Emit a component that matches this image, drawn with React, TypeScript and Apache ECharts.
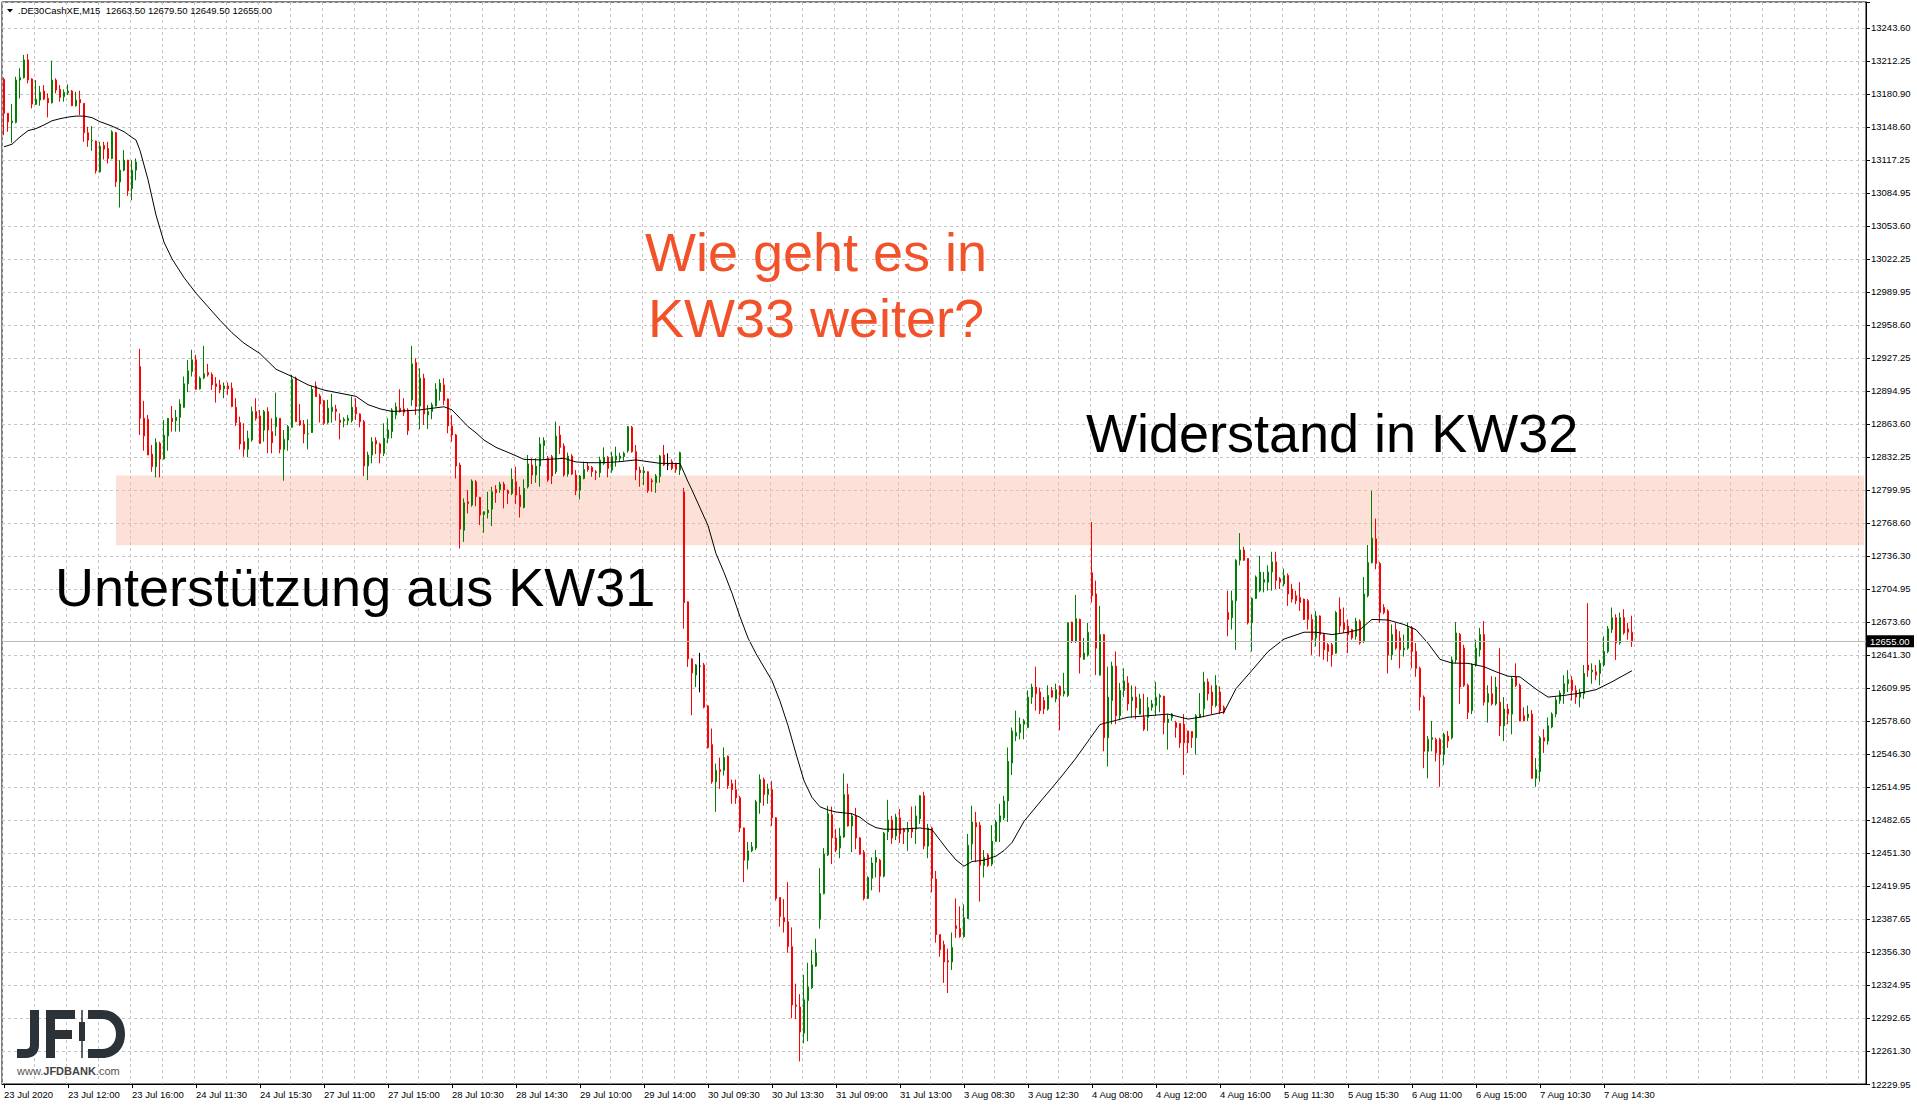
import React, { useEffect, useRef } from 'react';
import * as echarts from 'echarts';

const W = 1917;
const H = 1107;

const symbolName = '.DE30CashXE,M15';

const yTickLabels = [
  '12229.95', '12261.30', '12292.65', '12324.95', '12356.30', '12387.65', '12419.95', '12451.30',
  '12482.65', '12514.95', '12546.30', '12578.60', '12609.95', '12641.30', '12673.60', '12704.95',
  '12736.30', '12768.60', '12799.95', '12832.25', '12863.60', '12894.95', '12927.25', '12958.60',
  '12989.95', '13022.25', '13053.60', '13084.95', '13117.25', '13148.60', '13180.90', '13212.25', '13243.60',
];

const xTickLabels = [
  '23 Jul 2020', '23 Jul 12:00', '23 Jul 16:00', '24 Jul 11:30', '24 Jul 15:30', '27 Jul 11:00',
  '27 Jul 15:00', '28 Jul 10:30', '28 Jul 14:30', '29 Jul 10:00', '29 Jul 14:00', '30 Jul 09:30',
  '30 Jul 13:30', '31 Jul 09:00', '31 Jul 13:00', '3 Aug 08:30', '3 Aug 12:30', '4 Aug 08:00',
  '4 Aug 12:00', '4 Aug 16:00', '5 Aug 11:30', '5 Aug 15:30', '6 Aug 11:00', '6 Aug 15:00',
  '7 Aug 10:30', '7 Aug 14:30',
];

const openP = [
  13194.3, 13161.6, 13152.6, 13153.0, 13193.6, 13195.9, 13212.9, 13194.6, 13170.2, 13174.4,
  13183.0, 13176.0, 13171.8, 13193.6, 13184.6, 13177.6, 13181.4, 13183.0, 13168.9, 13175.0,
  13171.2, 13143.0, 13135.3, 13135.0, 13105.5, 13130.8, 13127.9, 13118.3, 13143.0, 13095.8,
  13107.1, 13116.7, 13089.4, 13107.1, 12918.6, 12868.9, 12868.0, 12834.6, 12822.5, 12844.9,
  12829.8, 12851.9, 12868.9, 12866.7, 12869.9, 12879.5, 12902.0, 12913.8, 12925.0, 12897.2,
  12907.7, 12912.9, 12911.0, 12902.0, 12901.0, 12897.2, 12900.0, 12897.8, 12879.5, 12864.8,
  12846.5, 12839.1, 12848.1, 12875.4, 12871.2, 12857.7, 12875.4, 12856.1, 12860.9, 12868.9,
  12839.1, 12848.1, 12860.3, 12907.4, 12866.7, 12863.2, 12853.9, 12855.2, 12900.0, 12890.4,
  12885.9, 12864.8, 12875.4, 12877.9, 12867.3, 12866.4, 12866.7, 12866.7, 12879.5, 12873.1,
  12865.7, 12823.1, 12833.7, 12847.5, 12844.3, 12835.3, 12849.7, 12856.1, 12872.0, 12878.6,
  12877.9, 12876.9, 12886.6, 12922.5, 12880.8, 12907.4, 12872.2, 12875.4, 12880.8, 12894.6,
  12901.0, 12887.5, 12861.6, 12852.9, 12824.1, 12761.5, 12788.8, 12785.6, 12808.0, 12793.0,
  12776.6, 12778.2, 12781.7, 12800.6, 12800.6, 12805.8, 12799.4, 12796.8, 12808.0, 12795.2,
  12783.4, 12803.2, 12824.1, 12814.4, 12823.1, 12842.7, 12830.5, 12832.1, 12817.6, 12852.9,
  12842.3, 12815.4, 12832.7, 12814.4, 12800.0, 12811.2, 12823.1, 12821.8, 12817.6, 12816.7,
  12825.7, 12831.5, 12819.2, 12828.9, 12830.5, 12832.1, 12837.8, 12860.3, 12836.9, 12819.2,
  12816.7, 12817.6, 12809.0, 12807.1, 12813.0, 12833.7, 12824.1, 12827.3, 12825.7, 12819.2,
  12798.3, 12692.8, 12638.0, 12622.5, 12631.0, 12632.2, 12592.8, 12555.7, 12520.1, 12531.7,
  12531.0, 12544.5, 12518.2, 12512.4, 12504.7, 12475.7, 12444.8, 12453.7, 12456.4, 12500.1,
  12522.1, 12507.8, 12512.4, 12485.4, 12408.9, 12389.6, 12385.7, 12361.8, 12305.8, 12303.8,
  12278.7, 12310.0, 12322.4, 12343.2, 12388.0, 12412.7, 12449.8, 12488.5, 12466.1, 12456.4,
  12467.0, 12507.8, 12477.6, 12487.3, 12466.1, 12452.5, 12408.1, 12427.5, 12442.9, 12444.8,
  12429.4, 12471.9, 12483.4, 12468.0, 12485.4, 12474.5, 12471.9, 12475.7, 12474.5, 12484.6,
  12506.6, 12458.3, 12475.7, 12426.7, 12373.3, 12363.7, 12348.2, 12347.1, 12381.8, 12379.1,
  12371.4, 12388.8, 12460.3, 12480.7, 12478.4, 12439.8, 12449.8, 12441.0, 12463.0, 12481.5,
  12485.4, 12501.6, 12538.0, 12563.9, 12567.2, 12575.3, 12572.1, 12601.3, 12611.0, 12606.2,
  12598.0, 12589.9, 12607.7, 12599.6, 12611.6, 12604.5, 12602.9, 12673.3, 12654.8, 12675.9,
  12637.6, 12641.8, 12720.7, 12700.3, 12622.4, 12661.3, 12562.3, 12598.0, 12631.1, 12583.4,
  12607.7, 12614.9, 12598.0, 12601.3, 12585.0, 12581.8, 12581.8, 12591.5, 12593.2, 12601.3,
  12602.2, 12576.9, 12581.8, 12576.9, 12575.9, 12575.3, 12568.8, 12568.2, 12562.3, 12581.8,
  12590.2, 12615.9, 12606.2, 12593.2, 12606.2, 12591.5, 12682.4, 12677.5, 12693.8, 12732.7,
  12742.5, 12734.3, 12672.7, 12696.0, 12703.5, 12711.6, 12711.6, 12721.4, 12731.1, 12714.9,
  12710.0, 12718.1, 12705.1, 12698.6, 12697.0, 12695.4, 12693.8, 12675.9, 12658.1, 12679.2,
  12661.3, 12651.6, 12651.6, 12643.5, 12685.7, 12672.7, 12669.5, 12666.2, 12659.7, 12674.3,
  12654.8, 12698.6, 12730.4, 12753.2, 12729.5, 12687.3, 12684.0, 12641.8, 12666.2, 12658.1,
  12646.7, 12648.3, 12667.8, 12645.1, 12628.9, 12601.3, 12549.3, 12560.7, 12560.7, 12560.7,
  12546.1, 12563.9, 12562.3, 12637.0, 12661.3, 12648.3, 12612.6, 12588.3, 12632.1, 12646.7,
  12661.3, 12596.4, 12604.5, 12594.8, 12596.4, 12573.7, 12589.9, 12585.0, 12620.7, 12612.6,
  12583.4, 12581.8, 12585.0, 12523.4, 12529.8, 12562.3, 12559.1, 12572.7, 12585.0, 12598.0,
  12604.5, 12614.2, 12617.5, 12607.7, 12601.3, 12604.5, 12632.1, 12625.6, 12625.6, 12624.0,
  12632.1, 12645.1, 12666.2, 12677.5, 12653.2, 12677.5, 12666.8, 12663.5,
];

const highP = [
  13196.0, 13162.0, 13170.5, 13196.8, 13204.9, 13217.7, 13218.6, 13195.2, 13193.6, 13187.9,
  13188.8, 13180.8, 13212.2, 13195.2, 13188.8, 13184.6, 13189.5, 13184.0, 13182.4, 13183.4,
  13171.5, 13148.7, 13149.4, 13135.5, 13134.3, 13134.3, 13134.3, 13145.5, 13143.9, 13116.7,
  13126.3, 13117.0, 13116.7, 13118.3, 12935.6, 12885.6, 12872.2, 12843.3, 12849.7, 12846.5,
  12867.3, 12869.2, 12880.8, 12876.9, 12887.2, 12909.0, 12925.0, 12934.7, 12929.9, 12909.0,
  12938.5, 12921.2, 12912.9, 12908.4, 12905.8, 12903.3, 12903.3, 12903.3, 12888.2, 12870.5,
  12864.1, 12857.1, 12880.2, 12888.2, 12876.9, 12876.9, 12879.5, 12868.9, 12893.6, 12869.2,
  12857.7, 12862.5, 12910.6, 12909.0, 12882.7, 12867.3, 12868.0, 12900.0, 12904.2, 12892.4,
  12886.2, 12886.6, 12892.4, 12881.8, 12873.7, 12869.9, 12872.2, 12889.8, 12888.2, 12873.7,
  12867.3, 12836.9, 12850.7, 12850.7, 12845.5, 12864.1, 12868.9, 12878.6, 12884.0, 12896.8,
  12888.2, 12878.6, 12938.5, 12926.6, 12917.0, 12911.6, 12881.8, 12884.0, 12902.6, 12906.5,
  12907.4, 12888.0, 12872.2, 12853.9, 12826.3, 12792.0, 12800.0, 12810.3, 12809.6, 12793.6,
  12779.5, 12798.4, 12803.2, 12804.8, 12808.0, 12808.0, 12800.6, 12820.8, 12822.5, 12803.2,
  12810.3, 12833.7, 12830.5, 12830.5, 12850.7, 12850.7, 12832.7, 12833.7, 12865.7, 12861.6,
  12844.9, 12836.0, 12834.6, 12819.2, 12814.4, 12827.3, 12826.3, 12823.1, 12819.2, 12832.1,
  12841.0, 12832.7, 12836.9, 12841.7, 12835.9, 12836.9, 12861.6, 12861.6, 12843.3, 12822.5,
  12822.5, 12818.0, 12811.2, 12815.4, 12833.7, 12843.3, 12835.3, 12829.5, 12826.3, 12836.9,
  12802.1, 12693.0, 12638.5, 12633.0, 12643.8, 12634.1, 12593.5, 12571.1, 12537.5, 12543.3,
  12553.0, 12545.3, 12522.1, 12522.1, 12506.6, 12476.0, 12462.2, 12462.2, 12502.7, 12527.1,
  12524.0, 12518.2, 12520.9, 12486.0, 12409.0, 12407.4, 12423.6, 12380.3, 12326.2, 12316.2,
  12334.7, 12346.3, 12358.7, 12369.5, 12437.1, 12456.4, 12497.0, 12496.2, 12474.5, 12475.7,
  12527.9, 12518.2, 12490.0, 12495.0, 12466.9, 12454.5, 12429.4, 12447.5, 12454.5, 12446.0,
  12471.9, 12502.7, 12487.3, 12489.3, 12493.9, 12475.7, 12481.5, 12496.2, 12497.0, 12507.0,
  12510.5, 12479.6, 12476.9, 12434.4, 12373.6, 12367.5, 12359.8, 12375.3, 12408.1, 12400.4,
  12402.3, 12470.0, 12497.0, 12491.2, 12481.5, 12454.5, 12451.4, 12478.4, 12483.4, 12498.9,
  12506.6, 12553.0, 12572.1, 12588.3, 12581.8, 12580.2, 12607.7, 12614.2, 12630.5, 12610.4,
  12601.3, 12612.6, 12611.0, 12614.2, 12612.6, 12624.6, 12673.0, 12673.7, 12699.3, 12676.6,
  12658.1, 12672.7, 12769.4, 12713.2, 12688.9, 12661.6, 12630.5, 12635.3, 12645.1, 12614.9,
  12628.9, 12621.4, 12612.6, 12611.6, 12604.5, 12604.5, 12601.3, 12598.6, 12615.9, 12604.5,
  12602.5, 12585.0, 12586.0, 12578.5, 12576.2, 12585.0, 12569.1, 12568.8, 12585.0, 12605.2,
  12625.6, 12619.1, 12612.6, 12622.4, 12611.6, 12593.2, 12703.5, 12703.5, 12733.7, 12758.7,
  12745.7, 12734.6, 12697.0, 12718.1, 12737.0, 12721.4, 12727.8, 12740.8, 12740.8, 12716.5,
  12724.6, 12720.0, 12710.0, 12703.5, 12711.6, 12695.8, 12695.4, 12680.8, 12684.0, 12679.8,
  12662.9, 12653.2, 12653.2, 12684.0, 12697.0, 12687.3, 12675.9, 12666.8, 12677.5, 12675.9,
  12716.5, 12747.3, 12799.3, 12772.6, 12731.1, 12690.5, 12685.7, 12671.0, 12672.7, 12664.6,
  12661.3, 12672.7, 12669.5, 12653.2, 12630.5, 12602.9, 12563.9, 12578.5, 12562.3, 12562.3,
  12567.2, 12568.8, 12640.2, 12673.3, 12662.9, 12651.6, 12614.2, 12633.7, 12656.4, 12667.8,
  12674.3, 12612.6, 12621.4, 12620.7, 12648.3, 12601.3, 12594.8, 12620.7, 12633.7, 12614.2,
  12591.5, 12593.2, 12588.9, 12542.8, 12563.9, 12570.5, 12581.8, 12586.7, 12601.3, 12607.7,
  12622.4, 12627.2, 12621.4, 12612.6, 12609.4, 12632.1, 12691.5, 12633.7, 12632.1, 12637.0,
  12659.7, 12669.5, 12687.3, 12680.8, 12682.4, 12685.7, 12672.7, 12679.5,
];

const lowP = [
  13140.7, 13144.0, 13133.4, 13152.0, 13176.0, 13195.0, 13190.4, 13166.4, 13169.6, 13168.9,
  13174.4, 13157.7, 13171.0, 13180.8, 13172.8, 13172.8, 13179.2, 13168.5, 13168.0, 13160.0,
  13134.3, 13129.5, 13125.7, 13103.9, 13104.8, 13117.3, 13113.5, 13117.5, 13091.0, 13071.2,
  13106.0, 13082.4, 13078.2, 13097.4, 12852.9, 12837.8, 12833.5, 12817.6, 12812.2, 12812.2,
  12829.5, 12837.8, 12856.1, 12856.1, 12856.1, 12879.0, 12894.0, 12909.0, 12896.2, 12896.5,
  12906.5, 12909.0, 12896.2, 12884.0, 12893.0, 12888.2, 12891.4, 12879.5, 12861.6, 12839.1,
  12832.1, 12831.5, 12846.5, 12866.7, 12844.3, 12846.5, 12835.3, 12835.3, 12851.9, 12835.3,
  12809.0, 12837.8, 12860.0, 12865.4, 12861.6, 12844.9, 12839.1, 12855.0, 12889.5, 12864.8,
  12862.5, 12863.5, 12864.8, 12866.7, 12848.7, 12860.3, 12862.5, 12864.8, 12867.3, 12860.3,
  12813.5, 12809.6, 12825.7, 12834.6, 12825.7, 12832.7, 12844.9, 12849.7, 12868.0, 12874.4,
  12871.2, 12852.9, 12880.8, 12872.2, 12858.4, 12862.5, 12858.7, 12868.0, 12880.2, 12885.9,
  12881.8, 12854.5, 12846.5, 12811.2, 12743.9, 12750.3, 12777.6, 12784.0, 12784.6, 12766.4,
  12759.0, 12772.8, 12765.4, 12787.8, 12797.4, 12782.4, 12786.6, 12795.2, 12786.6, 12773.7,
  12782.4, 12801.6, 12805.8, 12807.1, 12803.2, 12829.5, 12808.0, 12805.8, 12815.4, 12834.6,
  12812.8, 12812.8, 12814.4, 12795.2, 12791.0, 12810.3, 12817.6, 12812.8, 12809.6, 12812.2,
  12824.1, 12812.2, 12816.7, 12822.5, 12827.3, 12828.3, 12835.9, 12835.9, 12809.6, 12803.2,
  12804.8, 12797.4, 12798.4, 12797.4, 12807.1, 12823.1, 12819.2, 12819.2, 12816.7, 12814.4,
  12666.9, 12630.3, 12583.9, 12610.9, 12605.9, 12590.5, 12551.8, 12518.2, 12491.2, 12513.2,
  12526.0, 12513.2, 12498.9, 12498.9, 12471.9, 12423.6, 12436.0, 12452.5, 12454.5, 12489.3,
  12497.0, 12498.9, 12477.6, 12406.0, 12381.0, 12375.3, 12356.0, 12293.0, 12292.2, 12251.6,
  12269.0, 12271.0, 12321.2, 12342.4, 12379.1, 12412.0, 12448.7, 12441.0, 12452.5, 12446.7,
  12466.1, 12477.0, 12452.5, 12455.2, 12450.0, 12406.2, 12407.4, 12415.8, 12428.2, 12413.9,
  12428.2, 12464.1, 12460.3, 12464.1, 12461.4, 12460.3, 12453.7, 12466.1, 12460.3, 12479.6,
  12455.2, 12446.7, 12413.9, 12365.6, 12352.1, 12327.0, 12317.3, 12339.4, 12370.3, 12370.3,
  12370.3, 12388.5, 12444.8, 12442.9, 12405.0, 12428.2, 12438.3, 12439.0, 12462.2, 12462.2,
  12483.4, 12481.5, 12526.6, 12559.1, 12560.7, 12560.7, 12571.5, 12594.8, 12588.3, 12585.0,
  12585.0, 12588.3, 12601.0, 12596.4, 12569.4, 12601.9, 12601.3, 12653.2, 12653.2, 12624.0,
  12637.0, 12640.2, 12692.1, 12622.4, 12622.0, 12549.3, 12534.7, 12575.3, 12575.3, 12579.2,
  12601.3, 12588.3, 12581.8, 12580.2, 12584.5, 12568.8, 12568.8, 12588.3, 12583.4, 12586.7,
  12565.6, 12550.9, 12578.5, 12562.3, 12552.6, 12526.6, 12547.7, 12552.6, 12546.1, 12581.6,
  12581.8, 12598.0, 12585.0, 12591.5, 12585.0, 12585.0, 12659.7, 12666.2, 12646.7, 12727.8,
  12732.0, 12671.0, 12645.1, 12695.4, 12701.9, 12701.9, 12703.5, 12703.5, 12705.1, 12705.1,
  12707.7, 12688.9, 12692.1, 12690.5, 12684.0, 12675.5, 12666.2, 12641.8, 12649.9, 12640.2,
  12637.0, 12635.3, 12630.5, 12643.0, 12662.9, 12662.9, 12643.5, 12656.4, 12656.4, 12651.6,
  12653.2, 12697.0, 12729.5, 12724.0, 12672.7, 12680.8, 12624.0, 12637.0, 12646.7, 12628.9,
  12640.2, 12646.7, 12628.9, 12620.7, 12588.3, 12533.1, 12523.4, 12549.3, 12539.6, 12515.2,
  12536.3, 12552.6, 12560.7, 12633.7, 12594.8, 12611.0, 12580.2, 12585.0, 12630.5, 12640.2,
  12593.2, 12576.9, 12593.2, 12593.2, 12563.9, 12559.1, 12575.3, 12565.6, 12611.0, 12578.0,
  12578.0, 12578.5, 12523.0, 12515.2, 12520.1, 12547.7, 12555.8, 12571.4, 12581.8, 12594.8,
  12594.8, 12606.2, 12598.0, 12594.8, 12591.5, 12599.6, 12620.7, 12614.2, 12617.5, 12612.6,
  12630.5, 12643.5, 12662.9, 12637.0, 12651.6, 12661.3, 12656.4, 12649.5,
];

const closeP = [
  13161.6, 13153.5, 13154.2, 13193.6, 13195.9, 13212.9, 13193.6, 13170.5, 13175.0, 13181.8,
  13175.3, 13171.8, 13193.6, 13184.0, 13177.0, 13181.8, 13183.0, 13168.9, 13174.4, 13171.8,
  13143.0, 13135.9, 13135.6, 13106.4, 13130.1, 13127.3, 13118.3, 13143.9, 13095.8, 13107.1,
  13116.7, 13087.2, 13107.1, 13114.8, 12868.9, 12851.9, 12833.7, 12822.5, 12845.8, 12829.8,
  12852.6, 12868.9, 12865.7, 12869.9, 12882.7, 12902.0, 12914.5, 12925.0, 12896.8, 12907.4,
  12911.6, 12910.6, 12901.0, 12899.4, 12896.2, 12900.0, 12897.2, 12880.2, 12864.8, 12844.3,
  12839.1, 12849.7, 12875.4, 12868.9, 12844.9, 12875.4, 12857.7, 12845.5, 12869.9, 12839.1,
  12848.7, 12860.9, 12906.5, 12865.7, 12862.5, 12853.9, 12854.2, 12896.8, 12889.8, 12882.7,
  12864.1, 12878.6, 12879.5, 12875.4, 12864.8, 12868.0, 12868.9, 12879.5, 12873.1, 12865.7,
  12823.1, 12833.7, 12846.5, 12844.3, 12835.3, 12849.7, 12857.7, 12876.9, 12880.0, 12875.4,
  12874.7, 12857.1, 12921.2, 12880.2, 12907.4, 12873.1, 12875.4, 12881.8, 12896.8, 12902.6,
  12885.9, 12861.6, 12852.9, 12823.1, 12762.5, 12787.8, 12787.2, 12808.7, 12793.6, 12776.0,
  12779.2, 12780.8, 12798.4, 12797.4, 12805.8, 12800.0, 12796.8, 12810.3, 12795.2, 12784.0,
  12801.6, 12825.1, 12814.4, 12823.1, 12844.3, 12847.5, 12809.6, 12813.5, 12851.9, 12841.0,
  12814.4, 12832.7, 12815.4, 12799.4, 12813.5, 12819.8, 12819.8, 12817.6, 12816.7, 12828.9,
  12831.5, 12820.8, 12832.1, 12832.7, 12832.7, 12835.3, 12860.9, 12836.9, 12819.2, 12816.7,
  12818.3, 12799.4, 12808.0, 12813.5, 12832.7, 12824.1, 12824.1, 12820.8, 12819.8, 12835.9,
  12692.0, 12638.0, 12624.4, 12632.2, 12631.0, 12591.6, 12553.0, 12520.1, 12531.0, 12529.8,
  12543.3, 12516.3, 12512.4, 12504.7, 12475.7, 12444.8, 12453.7, 12457.6, 12500.8, 12522.1,
  12507.8, 12513.2, 12485.4, 12408.1, 12390.7, 12385.7, 12361.8, 12305.8, 12304.6, 12279.9,
  12310.8, 12323.1, 12344.4, 12356.0, 12412.7, 12450.6, 12489.3, 12466.1, 12454.5, 12468.0,
  12507.8, 12477.6, 12487.3, 12466.1, 12450.6, 12408.1, 12428.2, 12442.1, 12447.5, 12429.4,
  12470.7, 12483.4, 12466.1, 12486.1, 12469.9, 12471.9, 12474.5, 12471.9, 12487.3, 12506.6,
  12458.3, 12475.7, 12427.4, 12373.3, 12358.7, 12347.1, 12347.1, 12361.0, 12379.1, 12371.4,
  12389.6, 12459.1, 12481.5, 12476.9, 12439.8, 12447.5, 12439.8, 12463.0, 12481.5, 12487.3,
  12501.6, 12539.5, 12568.8, 12567.2, 12575.3, 12578.5, 12601.3, 12611.0, 12604.5, 12588.3,
  12589.9, 12602.9, 12601.3, 12608.4, 12602.9, 12607.1, 12672.7, 12654.8, 12676.6, 12639.6,
  12643.5, 12663.6, 12698.6, 12648.3, 12661.3, 12562.3, 12601.3, 12631.1, 12583.4, 12607.7,
  12616.8, 12594.8, 12601.3, 12590.9, 12599.6, 12570.5, 12591.5, 12594.8, 12601.3, 12602.9,
  12576.9, 12580.2, 12585.0, 12572.1, 12557.4, 12557.4, 12557.4, 12562.3, 12583.4, 12585.0,
  12615.9, 12604.5, 12593.2, 12612.6, 12588.3, 12586.7, 12675.9, 12693.8, 12732.7, 12742.5,
  12732.7, 12672.7, 12696.0, 12716.5, 12721.4, 12714.2, 12721.4, 12731.1, 12713.2, 12711.6,
  12718.1, 12700.3, 12695.4, 12693.8, 12692.1, 12675.9, 12675.9, 12656.4, 12679.2, 12661.3,
  12646.7, 12645.1, 12641.8, 12682.4, 12669.5, 12666.2, 12661.3, 12658.1, 12674.3, 12653.2,
  12700.3, 12730.4, 12753.8, 12729.5, 12682.4, 12682.4, 12641.8, 12661.3, 12648.3, 12646.7,
  12648.3, 12667.8, 12645.1, 12628.9, 12601.3, 12549.3, 12560.7, 12562.3, 12547.7, 12546.1,
  12565.6, 12559.1, 12637.0, 12662.9, 12611.0, 12612.6, 12586.7, 12632.1, 12648.3, 12661.3,
  12596.4, 12604.5, 12594.8, 12611.0, 12573.7, 12589.9, 12585.0, 12619.1, 12612.6, 12578.5,
  12578.5, 12585.0, 12523.4, 12531.5, 12562.3, 12559.1, 12573.7, 12585.0, 12598.6, 12605.2,
  12614.2, 12618.1, 12607.7, 12601.3, 12606.2, 12624.0, 12627.2, 12627.2, 12622.4, 12633.7,
  12645.1, 12666.8, 12677.5, 12653.2, 12677.5, 12662.9, 12663.6, 12655.0,
];

// moving average line, read at sampled bars
const maIdx = [
  0, 2, 4, 6, 8, 10, 12, 14, 16, 18, 20, 22, 24, 27, 30, 32, 33, 34, 36, 38, 40, 42, 45, 48, 51, 54, 57, 60,
  64, 68, 72, 76, 80, 84, 88, 91, 94, 97, 100, 104, 108, 110, 112, 114, 116, 118, 120, 123, 127, 130, 134,
  138, 140, 143, 146, 150, 154, 158, 161, 164, 169, 171, 172, 174, 176, 178, 180, 182, 184, 186, 188, 190,
  192, 194, 196, 198, 200, 202, 204, 206, 208, 212, 214, 216, 218, 220, 224, 229, 232, 234, 236, 238, 240,
  242, 245, 248, 250, 252, 255, 259, 264, 268, 271, 274, 277, 281, 286, 291, 296, 299, 305, 308, 312, 316,
  320, 325, 328, 332, 336, 339, 342, 346, 350, 353, 356, 359, 362, 366, 370, 373, 376, 379, 383, 386, 390,
  394, 398, 402, 405, 407,
];
const maVal = [
  13129.5, 13132, 13139, 13145, 13147, 13150.5, 13154.5, 13156.5, 13158, 13159, 13159, 13157.5, 13153.6,
  13149.4, 13144, 13138.5, 13136, 13126, 13098, 13064, 13038, 13022, 13004, 12989, 12976, 12963, 12951, 12941,
  12931, 12916, 12909, 12901, 12896, 12893, 12890, 12882, 12878, 12875.5, 12876, 12877, 12879, 12880, 12877,
  12869, 12861, 12855, 12848, 12841, 12834.6, 12829.5, 12829, 12830, 12830.5, 12827, 12826.3, 12826.3,
  12827.3, 12829, 12827.3, 12825.7, 12825.5, 12808, 12800, 12783, 12766, 12739, 12721, 12701, 12678.5,
  12658, 12643, 12630, 12617, 12597.4, 12574, 12547, 12521, 12505, 12496, 12493, 12491, 12489.3, 12486,
  12480, 12476, 12474.5, 12474.5, 12475.7, 12474, 12464, 12454, 12445, 12439, 12443.5, 12444.8, 12448.7,
  12454, 12461.7, 12482, 12500.6, 12523.4, 12542.8, 12559, 12575, 12578, 12582, 12583.4, 12585, 12580.2,
  12582, 12587, 12609.4, 12627, 12645, 12657, 12663.6, 12663.6, 12661.3, 12663.6, 12666.2, 12675.9, 12675.3,
  12671, 12666, 12653, 12637.5, 12634, 12633.7, 12630.5, 12625.6, 12621.4, 12620.7, 12609, 12601.3, 12602.9,
  12605.2, 12608.4, 12616, 12622.4, 12626.6,
];

// support / resistance zone
const zoneLow = 12747;
const zoneHigh = 12814;
const zoneStartBar = 28;

const titleLines = ['Wie geht es in', 'KW33 weiter?'];
const resistanceLabel = 'Widerstand in KW32';
const supportLabel = 'Unterstützung aus KW31';

const SLOTS = 466;
const Y_MIN = 12229.95;
const Y_MAX = 13268.5;
const Y_STEP = (13243.6 - 12229.95) / 32;
const SMALL_FONT = 'Liberation Sans';
const BIG_FONT = 'Liberation Sans, Arial, sans-serif';

// logo glyph outlines (local units)
const LOGO_J = 'M13 0 L22 0 L22 35 C22 43 17 48 9 48 L0 48 L0 39 L9 39 C12 39 13 37 13 35 Z';
const LOGO_F = 'M0 0 L29 0 L29 9 L9 9 L9 20 L26 20 L26 29 L9 29 L9 48 L0 48 Z';
const LOGO_D = 'M0 0 L14 0 C28 0 37 10 37 24 C37 38 28 48 14 48 L0 48 L0 39 L14 39 C22 39 28 33 28 24 C28 15 22 9 14 9 L0 9 Z';

let shapesRegistered = false;
function registerLogoShapes() {
  if (shapesRegistered) return;
  echarts.graphic.registerShape('logoJ', echarts.graphic.extendPath(LOGO_J, {}));
  echarts.graphic.registerShape('logoF', echarts.graphic.extendPath(LOGO_F, {}));
  echarts.graphic.registerShape('logoD', echarts.graphic.extendPath(LOGO_D, {}));
  shapesRegistered = true;
}

export default function App() {
  const ref = useRef<HTMLDivElement>(null);

  useEffect(() => {
    document.body.style.margin = '0';
    registerLogoShapes();
    const chart = echarts.init(ref.current as HTMLDivElement, null, { renderer: 'svg' });
    const cats = Array.from({ length: SLOTS }, (_, i) => 'b' + i);
    const candleData = openP.map((o, i) => {
      const v = [o, closeP[i], lowP[i], highP[i]];
      if (o === closeP[i]) {
        return { value: v, itemStyle: { color: '#000', color0: '#000', borderColor: '#000', borderColor0: '#000' } };
      }
      return v;
    });
    const last = openP.length - 1;
    const lastClose = closeP[last];
    const showX = (i: number) => i % 16 === 0 && i / 16 < xTickLabels.length;

    chart.setOption({
      animation: false,
      backgroundColor: '#ffffff',
      grid: { left: 2, top: 2, right: 51, bottom: 23, show: true, borderColor: '#000', borderWidth: 1 },
      xAxis: {
        type: 'category',
        data: cats,
        boundaryGap: true,
        axisLine: { show: true, lineStyle: { color: '#000', width: 1 } },
        axisTick: { show: true, alignWithLabel: true, length: 4, interval: (i: number) => showX(i), lineStyle: { color: '#000' } },
        axisLabel: {
          show: true,
          interval: (i: number) => showX(i),
          formatter: (_v: string, i: number) => xTickLabels[Math.round(i / 16)] ?? '',
          align: 'left',
          color: '#000',
          fontFamily: SMALL_FONT,
          fontSize: 9.5,
          margin: 5,
        },
        splitLine: { show: true, interval: (i: number) => i % 8 === 0, lineStyle: { color: '#c4c4c4', type: [3, 3], width: 1 } },
      },
      yAxis: {
        type: 'value',
        position: 'right',
        min: Y_MIN,
        max: Y_MAX,
        interval: Y_STEP,
        axisLine: { show: true, lineStyle: { color: '#000', width: 1 } },
        axisTick: { show: true, length: 4, lineStyle: { color: '#000' } },
        axisLabel: {
          formatter: (v: number) => {
            const j = (v - Y_MIN) / Y_STEP;
            const r = Math.round(j);
            if (Math.abs(j - r) > 0.01 || r < 0 || r >= yTickLabels.length) return '';
            return yTickLabels[r];
          },
          color: '#000',
          fontFamily: SMALL_FONT,
          fontSize: 9.5,
          margin: 5,
        },
        splitLine: { show: true, lineStyle: { color: '#c4c4c4', type: [3, 3], width: 1 } },
      },
      series: [
        {
          type: 'line',
          data: [],
          z: 1,
          silent: true,
          markArea: {
            silent: true,
            itemStyle: { color: 'rgba(250, 180, 160, 0.42)' },
            data: [[{ xAxis: zoneStartBar, yAxis: zoneHigh }, { xAxis: SLOTS - 1, yAxis: zoneLow }]],
          },
          markLine: {
            silent: true,
            symbol: ['none', 'none'],
            label: { show: false },
            lineStyle: { color: '#b8b8b8', type: 'solid', width: 1 },
            data: [{ yAxis: lastClose }],
          },
        },
        {
          type: 'candlestick',
          data: candleData,
          barWidth: 2,
          z: 3,
          itemStyle: { color: '#008000', color0: '#ff0000', borderColor: '#008000', borderColor0: '#ff0000', borderWidth: 1 },
        },
        {
          type: 'line',
          data: maIdx.map((x, k) => [x, maVal[k]]),
          showSymbol: false,
          symbol: 'none',
          z: 4,
          lineStyle: { color: '#000', width: 1 },
        },
      ],
    });

    const priceY = chart.convertToPixel({ yAxisIndex: 0 }, lastClose) as number;
    const fmt = (n: number) => n.toFixed(2);
    const header = `${symbolName}  ${fmt(openP[last])} ${fmt(highP[last])} ${fmt(lowP[last])} ${fmt(closeP[last])}`;
    const logoColor = '#2b3238';

    chart.setOption({
      graphic: [
        { type: 'polygon', shape: { points: [[7, 9], [13, 9], [10, 12.5]] }, style: { fill: '#000' } },
        { type: 'text', x: 18, y: 10.5, style: { text: header, fill: '#000', fontFamily: SMALL_FONT, fontSize: 9.5, align: 'left', verticalAlign: 'middle' } },
        { type: 'text', x: 816, y: 252, style: { text: titleLines[0], fill: '#f2522a', fontFamily: BIG_FONT, fontSize: 54, align: 'center', verticalAlign: 'middle' } },
        { type: 'text', x: 816, y: 318, style: { text: titleLines[1], fill: '#f2522a', fontFamily: BIG_FONT, fontSize: 54, align: 'center', verticalAlign: 'middle' } },
        { type: 'text', x: 1086, y: 433, style: { text: resistanceLabel, fill: '#000', fontFamily: BIG_FONT, fontSize: 54, align: 'left', verticalAlign: 'middle' } },
        { type: 'text', x: 55, y: 587, style: { text: supportLabel, fill: '#000', fontFamily: BIG_FONT, fontSize: 54, align: 'left', verticalAlign: 'middle' } },
        { type: 'rect', shape: { x: 1867, y: priceY - 6, width: 47, height: 12 }, style: { fill: '#000' } },
        { type: 'text', x: 1870, y: priceY, style: { text: fmt(lastClose), fill: '#fff', fontFamily: SMALL_FONT, fontSize: 9.5, align: 'left', verticalAlign: 'middle' } },
        { type: 'logoJ', x: 17, y: 1010, style: { fill: logoColor } },
        { type: 'logoF', x: 46, y: 1010, style: { fill: logoColor } },
        { type: 'line', shape: { x1: 82, y1: 1010, x2: 82, y2: 1058 }, style: { stroke: logoColor, lineWidth: 1.5 } },
        { type: 'rect', shape: { x: 79, y: 1022, width: 6, height: 19 }, style: { fill: logoColor } },
        { type: 'logoD', x: 88, y: 1010, style: { fill: logoColor } },
        {
          type: 'text', x: 17, y: 1071,
          style: {
            text: '{a|www.}{b|JFDBANK}{a|.com}',
            rich: {
              a: { fill: '#555', fontFamily: 'Liberation Sans', fontSize: 11 },
              b: { fill: '#444', fontFamily: 'Liberation Sans', fontSize: 11, fontWeight: 'bold' },
            },
            align: 'left',
            verticalAlign: 'middle',
          },
        },
      ],
    });

    return () => chart.dispose();
  }, []);

  return <div ref={ref} style={{ position: 'fixed', left: 0, top: 0, width: W, height: H, background: '#fff' }} />;
}
